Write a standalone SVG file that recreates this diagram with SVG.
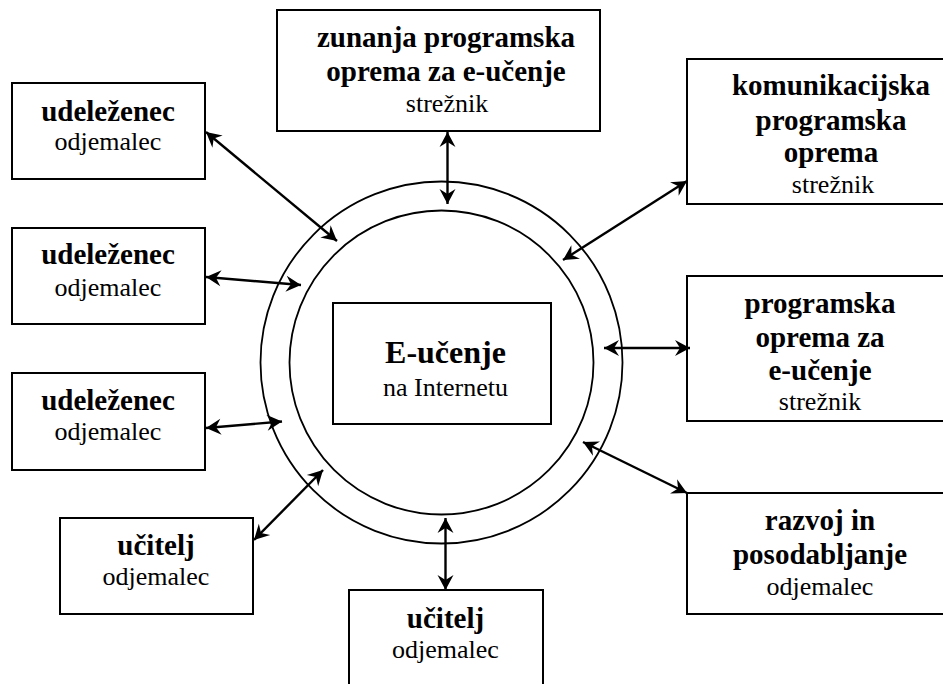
<svg xmlns="http://www.w3.org/2000/svg" width="943" height="684" viewBox="0 0 943 684">
<defs>
<marker id="ah" viewBox="-16 -9 17 18" refX="0" refY="0" markerWidth="17" markerHeight="18" markerUnits="userSpaceOnUse" orient="auto-start-reverse">
<path d="M0,0 L-15,-8 L-10,0 L-15,8 Z" fill="#000"/>
</marker>
<style>
text{font-family:"Liberation Serif","Times New Roman",Times,"DejaVu Serif",serif;text-anchor:middle;fill:#000}
.box{fill:#fff;stroke:#000;stroke-width:2}
.ring{fill:none;stroke:#000;stroke-width:1.8}
.b{font-weight:bold;font-size:29px}
.r{font-size:26px}
.t{font-weight:bold;font-size:32px}
.c{stroke:#000;stroke-width:2.4;fill:none;marker-start:url(#ah);marker-end:url(#ah)}
</style>
</defs>
<rect width="943" height="684" fill="#fff"/>
<g id="center">
<circle class="ring" cx="441.5" cy="362.5" r="181"/>
<circle class="ring" cx="441.5" cy="362.5" r="152"/>
<rect class="box" x="333" y="303" width="218" height="121"/>
<text class="t" x="445.5" y="363">E-učenje</text>
<text class="r" x="445.5" y="396">na Internetu</text>
</g>
<g id="n-top">
<rect class="box" x="277" y="10" width="323" height="121"/>
<text class="b" x="446" y="47">zunanja programska</text>
<text class="b" x="446" y="81">oprema za e-učenje</text>
<text class="r" x="447" y="112">strežnik</text>
</g>
<g id="n-left1">
<rect class="box" x="12" y="83" width="193" height="96"/>
<text class="b" x="108" y="121">udeleženec</text>
<text class="r" x="108" y="150">odjemalec</text>
</g>
<g id="n-left2">
<rect class="box" x="12" y="228" width="193" height="96"/>
<text class="b" x="108" y="264">udeleženec</text>
<text class="r" x="108" y="296">odjemalec</text>
</g>
<g id="n-left3">
<rect class="box" x="12" y="373" width="193" height="97"/>
<text class="b" x="108" y="410">udeleženec</text>
<text class="r" x="108" y="440">odjemalec</text>
</g>
<g id="n-left4">
<rect class="box" x="60" y="518" width="193" height="96"/>
<text class="b" x="156" y="555">učitelj</text>
<text class="r" x="156" y="585">odjemalec</text>
</g>
<g id="n-bottom">
<rect class="box" x="349" y="590" width="194" height="110"/>
<text class="b" x="445.5" y="628">učitelj</text>
<text class="r" x="445.5" y="658">odjemalec</text>
</g>
<g id="n-right1">
<rect class="box" x="687" y="59" width="280" height="145"/>
<text class="b" x="831" y="95">komunikacijska</text>
<text class="b" x="831" y="130">programska</text>
<text class="b" x="831" y="162">oprema</text>
<text class="r" x="833" y="193">strežnik</text>
</g>
<g id="n-right2">
<rect class="box" x="687" y="276" width="280" height="145"/>
<text class="b" x="820" y="313">programska</text>
<text class="b" x="820" y="347">oprema za</text>
<text class="b" x="820" y="380">e-učenje</text>
<text class="r" x="820" y="410">strežnik</text>
</g>
<g id="n-right3">
<rect class="box" x="687" y="493" width="280" height="121"/>
<text class="b" x="820" y="530">razvoj in</text>
<text class="b" x="820" y="564">posodabljanje</text>
<text class="r" x="820" y="595">odjemalec</text>
</g>
<g id="connectors">
<line class="c" x1="447.5" y1="132" x2="447.5" y2="204"/>
<line class="c" x1="206" y1="132" x2="337" y2="241"/>
<line class="c" x1="206" y1="277" x2="301" y2="285"/>
<line class="c" x1="206" y1="428" x2="282" y2="421.5"/>
<line class="c" x1="254" y1="540" x2="323" y2="470"/>
<line class="c" x1="445.5" y1="518" x2="445.5" y2="590"/>
<line class="c" x1="687" y1="181" x2="563" y2="260"/>
<line class="c" x1="604" y1="348" x2="690" y2="348"/>
<line class="c" x1="583" y1="442" x2="687" y2="493"/>
</g>
</svg>
